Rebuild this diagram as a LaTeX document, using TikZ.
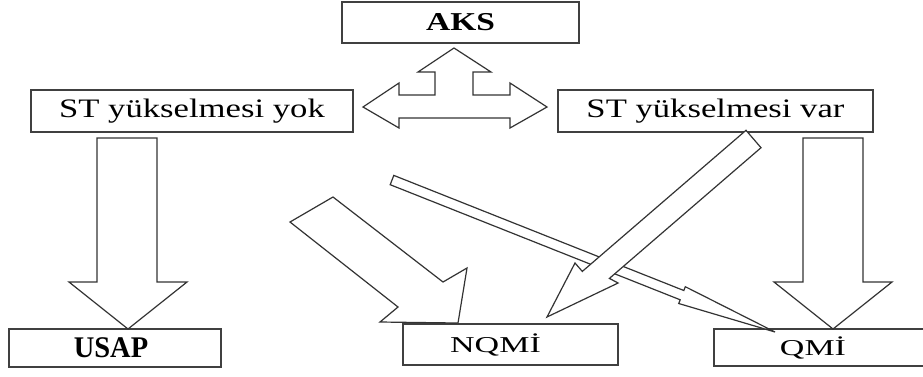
\documentclass[tikz,border=0pt]{standalone}
\usepackage{fontspec}
\setmainfont{Liberation Serif}
\newfontfamily\stfont{Liberation Serif}[FakeStretch=1.3]
\newfontfamily\mifont{Liberation Serif}[FakeStretch=1.5]
\newfontfamily\usfont{Liberation Serif}[FakeStretch=0.95]
\usepackage{tikz}
\usetikzlibrary{positioning}
\newcommand{\px}{0.75pt}
\tikzset{
	box/.style={draw=black!75, line width=1.1pt, fill=white, inner sep=0pt, outer sep=0pt},
	blockarrow/.style={draw=black!80, line width=0.9pt, fill=white, line join=miter},
}
\begin{document}
\begin{tikzpicture}[x=0.75pt,y=-0.75pt]
	\clip (0,0) rectangle (923,376);
	\fill[white] (0,0) rectangle (923,376);
	% boxes
	\node[box, minimum width=237*\px, minimum height=41*\px] (aks) at (460.5,22.5) {\stfont\fontsize{19.3}{22}\selectfont\bfseries AKS};
	\node[box, minimum width=322*\px, minimum height=42*\px] (styok) at (192,111) {\stfont\fontsize{20}{24}\selectfont ST yükselmesi yok};
	\node[box, minimum width=315*\px, minimum height=42*\px] (stvar) at (715.5,111) {\stfont\fontsize{20}{24}\selectfont ST yükselmesi var};
	\node[box, minimum width=212*\px, minimum height=38*\px] (usap) at (115,348) {\usfont\fontsize{22.5}{26}\selectfont\bfseries USAP\kern6pt};
	\node[box, minimum width=215*\px, minimum height=41*\px] (nqmi) at (510.5,344.5) {\mifont\fontsize{17}{20}\selectfont NQMİ\kern22.5pt};
	\node[box, minimum width=211*\px, minimum height=37*\px] (qmi) at (819.5,347.5) {\mifont\fontsize{17}{20}\selectfont QMİ\kern9.75pt};
	% AKS <-> ST
	\draw[blockarrow] (454,48) -- (491,72) -- (473,72) -- (473,95) -- (510,95) -- (510,83) -- (547,107) -- (510,128) -- (510,118)
		-- (399,118) -- (399,128) -- (363,107) -- (399,83) -- (399,95) -- (435,95) -- (435,72) -- (418,72) -- cycle;
	% down arrows
	\draw[blockarrow] (97,138) -- (157,138) -- (157,282) -- (187,282) -- (128,329) -- (69,282) -- (97,282) -- cycle;
	\draw[blockarrow] (803,138) -- (863,138) -- (863,282) -- (892,282) -- (833,329) -- (774,282) -- (803,282) -- cycle;
	% to NQMI
	\draw[blockarrow] (290,222) -- (398,307) -- (380,322) -- (458,323) -- (467,268) -- (443,282) -- (333,197) -- cycle;
	% thin one to QMI
	\draw[blockarrow] (393.8,175.4) -- (683.8,290.5) -- (685.3,286.7) -- (775,332) -- (678.7,303.5) -- (680.2,299.8) -- (390.2,184.7) -- cycle;
	% ST var to NQMI
	\draw[blockarrow] (746,130.3) -- (582.3,271.4) -- (575,263) -- (547,317) -- (618.1,283) -- (609.4,278.4) -- (761,147.7) -- cycle;
\end{tikzpicture}
\end{document}
